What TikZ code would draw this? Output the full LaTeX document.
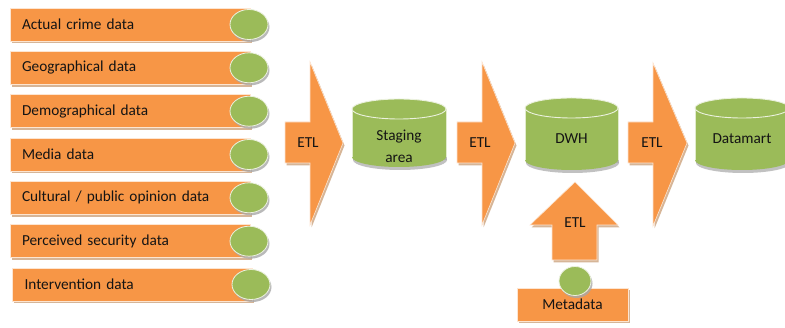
\documentclass[tikz,border=0pt]{standalone}
\usepackage{fontspec}
\setmainfont{Carlito}
\usetikzlibrary{shapes.geometric,shadows}
\definecolor{org}{HTML}{F79646}
\definecolor{grn}{HTML}{9BBB59}
\definecolor{oshad}{HTML}{D6B597}
\definecolor{gshad}{HTML}{A8A8A8}
\definecolor{txt}{HTML}{141414}
\tikzset{
  oshadow/.style={drop shadow={shadow xshift=1.5pt,shadow yshift=-2.5pt,fill=oshad,opacity=1}},
  gshadow/.style={drop shadow={shadow xshift=1.5pt,shadow yshift=-2.5pt,fill=gshad,opacity=0.8}},
  srcbox/.style={rectangle,fill=org,draw=white!75!org,line width=0.6pt,oshadow,
    minimum width=240pt,minimum height=33pt,text width=216pt,inner xsep=12pt,align=left,text=txt},
  dot/.style={ellipse,fill=grn,draw=white!80!grn,line width=0.8pt,gshadow,
    minimum width=38pt,minimum height=30pt,inner sep=0pt},
  etlarrow/.style={fill=org,draw=white!75!org,line width=0.6pt,oshadow},
  lbl/.style={text=txt,inner sep=0pt},
  metabox/.style={rectangle,fill=org,draw=white!75!org,line width=0.6pt,oshadow,
    minimum width=111pt,minimum height=33pt,text=txt},
}
\newcommand\dbcyl[7]{%
  % #1 name, #2 xl, #3 xr, #4 ytop, #5 ybot, #6 text, #7 text y
  \pgfmathsetmacro\cx{(#2+#3)/2}\pgfmathsetmacro\rx{(#3-#2)/2}%
  \fill[gshad,opacity=0.7] (#2+1,#4) rectangle (#3+1,#5+3);
  \fill[gshad,opacity=0.7] (\cx+1,#5+3) ellipse [x radius=\rx pt,y radius=10pt];
  \fill[grn] (#2,#4) rectangle (#3,#5);
  \fill[grn] (\cx,#5) ellipse [x radius=\rx pt,y radius=10pt];
  \draw[white!70!grn,line width=0.6pt] (#2,#4) -- (#2,#5) (#3,#4) -- (#3,#5);
  \fill[grn] (\cx,#4) ellipse [x radius=\rx pt,y radius=10pt];
  \draw[white!80!grn,line width=0.9pt] (\cx,#4) ellipse [x radius=\rx pt,y radius=10pt];
  \node[lbl,align=center] (#1) at (\cx,#7) {#6};
}
\begin{document}
\begin{tikzpicture}[x=1pt,y=-1pt,font=\fontsize{15.3}{22}\selectfont]
\useasboundingbox (0,0) rectangle (785,328);
\fill[white] (0,0) rectangle (785,328);

% source boxes
\node[srcbox] (b1) at (130,24.5) {Actual crime data};
\node[srcbox] (b2) at (130,67.8) {Geographical data};
\node[srcbox] (b3) at (130,111.2) {Demographical data};
\node[srcbox] (b4) at (130,154.5) {Media data};
\node[srcbox] (b5) at (130,197.8) {Cultural / public opinion data};
\node[srcbox] (b6) at (130,241.2) {Perceived security data};
\node[srcbox] (b7) at (132.5,284.5) {Intervention data};
\node[dot] (c1) at (249,24.5) {};
\node[dot] (c2) at (249,67.8) {};
\node[dot] (c3) at (249,111.2) {};
\node[dot] (c4) at (249,154.5) {};
\node[dot] (c5) at (249,197.8) {};
\node[dot] (c6) at (249,241.2) {};
\node[dot] (c7) at (251,284.5) {};

% ETL arrows
\path[etlarrow] (285,122) -- (310,122) -- (310,62) -- (343,143) -- (310,225) -- (310,163) -- (285,163) -- cycle;
\node[lbl] (e1) at (308,143) {ETL};
\path[etlarrow] (457,122) -- (482,122) -- (482,62) -- (515,143) -- (482,225) -- (482,163) -- (457,163) -- cycle;
\node[lbl] (e2) at (480,143) {ETL};
\path[etlarrow] (628,122) -- (653,122) -- (653,63) -- (687,143) -- (653,226) -- (653,163) -- (628,163) -- cycle;
\node[lbl] (e3) at (652,143) {ETL};
\path[etlarrow] (575,182) -- (618,225) -- (597,225) -- (597,260) -- (552,260) -- (552,225) -- (530,225) -- cycle;
\node[lbl] (e4) at (575,223) {ETL};

% databases
\dbcyl{stg}{352}{446}{109}{157}{Staging\\area}{146}
\dbcyl{dwh}{525}{618}{108}{160}{DWH}{139}
\dbcyl{dm}{695}{789}{108}{160}{Datamart}{139}

% metadata
\node[metabox] (meta) at (572.5,304.5) {Metadata};
\node[dot,minimum width=32pt,minimum height=29pt] (mc) at (575,281) {};
\end{tikzpicture}
\end{document}
